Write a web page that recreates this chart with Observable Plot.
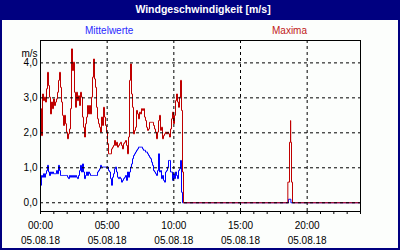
<!DOCTYPE html>
<html><head><meta charset="utf-8">
<script src="https://cdn.jsdelivr.net/npm/d3@7"></script>
<script src="https://cdn.jsdelivr.net/npm/@observablehq/plot@0.6"></script>
<style>
body{margin:0;background:#fff;}
#card{position:relative;width:400px;height:250px;background:#fcfefc;font-family:"Liberation Sans",Arial,sans-serif;overflow:hidden}
#title{position:absolute;left:0;top:0;width:400px;height:20px;background:#000080;color:#fff;font-weight:bold;font-size:10.5px;line-height:18px;text-align:center;text-indent:6px}
.leg{position:absolute;top:24.5px;font-size:10px;line-height:12px;white-space:nowrap}
#chart{position:absolute;left:0;top:20px}
#border{position:absolute;left:0;top:0;width:400px;height:250px;box-sizing:border-box;border:2px solid #000080;border-top:none;pointer-events:none}
</style>
</head><body>
<div id="card">
  <div id="title"></div>
  <div id="chart"></div>
  <span class="leg" id="leg0" style="left:85px;color:#2a2aff"></span>
  <span class="leg" id="leg1" style="left:272px;color:#c02020"></span>
  <div id="border"></div>
</div>
<script>
const title = "Windgeschwindigkeit [m/s]";
const seriesNames = ["Mittelwerte", "Maxima"];
const unitLabel = "m/s";
// morning samples, every 4.5 minutes from 00:00
const sampleMinutes = 4.5;
const maxMorning = [2.69,1.92,3.11,2.92,3.02,2.88,3.26,3.73,3.35,3.02,2.54,2.88,2.69,2.97,2.78,2.88,2.97,3.16,3.50,3.73,3.30,2.88,2.50,2.21,2.50,2.26,2.02,1.83,1.97,2.11,2.69,4.40,3.78,4.02,3.16,2.73,3.16,2.92,3.06,2.78,3.16,3.02,2.45,2.16,1.88,2.26,2.45,2.78,2.54,2.78,2.54,3.02,3.59,4.11,3.54,3.30,2.73,2.40,2.26,2.16,2.02,2.45,2.21,2.73,2.45,2.21,2.02,1.69,1.40,1.40,1.40,1.54,1.59,1.64,1.78,1.64,1.73,1.59,1.64,1.69,1.73,1.64,1.54,1.69,1.73,1.78,1.64,1.40,1.88,3.50,3.97,3.11,2.73,1.97,2.07,2.16,2.64,2.54,2.40,2.59,2.54,2.69,2.64,2.69,2.45,2.35,2.16,2.07,2.11,2.30,2.30,2.30,2.30,2.21,2.11,2.02,1.83,2.02,2.35,2.50,2.07,2.16,1.83,1.92,1.97,2.02,1.97,2.02,1.97,1.88,2.11,2.40,2.59,2.26,2.50,2.92,3.11,2.88,2.73,3.02,3.50,2.64,0.88,0];
const meanMorning = [0.50,0.78,0.73,0.83,0.73,0.83,0.92,1.07,0.88,0.78,0.88,0.83,0.88,0.83,0.83,0.83,0.92,0.83,1.07,0.92,0.78,0.78,0.78,0.78,0.78,0.78,0.78,0.73,0.69,0.78,0.73,0.78,0.73,0.78,0.73,0.78,0.73,0.69,0.78,0.92,1.07,0.88,1.11,0.88,0.69,0.78,0.88,0.78,0.88,0.83,0.78,0.78,0.78,0.78,0.78,0.78,0.78,0.88,0.92,0.97,1.07,1.02,1.02,1.02,1.02,1.02,1.02,1.02,0.92,0.88,0.69,0.50,0.73,0.83,0.97,1.02,0.88,0.73,0.69,0.73,0.69,0.59,0.64,0.69,0.73,0.78,0.64,0.88,0.73,0.88,1.02,1.11,1.26,1.35,1.40,1.45,1.50,1.54,1.59,1.59,1.59,1.59,1.54,1.50,1.50,1.45,1.45,1.40,1.35,1.30,1.26,1.16,1.07,0.92,0.88,0.83,0.78,0.92,1.40,0.88,0.92,0.69,0.78,0.64,0.59,0.88,0.92,1.02,1.21,1.21,0.88,0.88,0.64,0.83,0.69,0.88,0.78,0.69,0.92,0.97,1.21,0.30,0,0];
// evening gust
const maxEveningHours = [18.55,18.675,18.75,18.765,18.825,18.9,24];
const maxEvening = [0.59,1.73,2.35,1.73,0.59,0,0];
const meanEveningHours = [18.6,18.78,24];
const meanEvening = [0.1,0,0];
const yTicks = [0,1,2,3,4];
const gridHours = [5,10,15,20];
const minorHours = d3.range(0,25);
const labelHours = [0,5,10,15,20];
const timeLabels = ["00:00","05:00","10:00","15:00","20:00"];
const dateLabels = ["05.08.18","05.08.18","05.08.18","05.08.18","05.08.18"];

document.getElementById("title").textContent = title;
document.getElementById("leg0").textContent = seriesNames[0];
document.getElementById("leg1").textContent = seriesNames[1];

const build = (vals, hrs, evVals) => [
  ...vals.map((v,i) => ({h: i*sampleMinutes/60, v})),
  ...hrs.map((h,i) => ({h, v: evVals[i]}))
];
const maxData = build(maxMorning, maxEveningHours, maxEvening);
const meanData = build(meanMorning, meanEveningHours, meanEvening);

const chart = Plot.plot({
  width: 400, height: 230,
  marginLeft: 40, marginRight: 40, marginTop: 20, marginBottom: 39,
  style: {background: "transparent", fontFamily: "'Liberation Sans', Arial, sans-serif", fontSize: "10px", color: "#000"},
  x: {domain: [0, 24], axis: null},
  y: {domain: [-0.25, 4.64], axis: null},
  marks: [
    Plot.lineY(meanData, {x: "h", y: "v", stroke: "#0000ff", strokeWidth: 1, curve: "step-after"}),
    Plot.lineY(maxData, {x: "h", y: "v", stroke: "#c00000", strokeWidth: 1, curve: "step-after"}),
    Plot.gridY(yTicks, {stroke: "#000", strokeOpacity: 1, strokeDasharray: "3,3"}),
    Plot.gridX(gridHours, {stroke: "#000", strokeOpacity: 1, strokeDasharray: "3,3"}),
    Plot.frame({stroke: "#000"}),
    Plot.axisY({ticks: yTicks, tickSize: 0, tickPadding: 3, tickFormat: d => d.toFixed(1).replace(".", ","), label: null}),
    Plot.axisX({ticks: minorHours, tickSize: 3, tickFormat: () => "", label: null}),
    Plot.axisX({ticks: labelHours, tickSize: 0, tickPadding: 10, tickFormat: d => timeLabels[labelHours.indexOf(d)], label: null}),
    Plot.axisX({ticks: labelHours, tickSize: 0, tickPadding: 25, tickFormat: d => dateLabels[labelHours.indexOf(d)], label: null}),
    Plot.text([unitLabel], {text: d => d, frameAnchor: "top-left", textAnchor: "end", dx: -3, dy: 9})
  ]
});
document.getElementById("chart").appendChild(chart);
</script>
</body></html>
